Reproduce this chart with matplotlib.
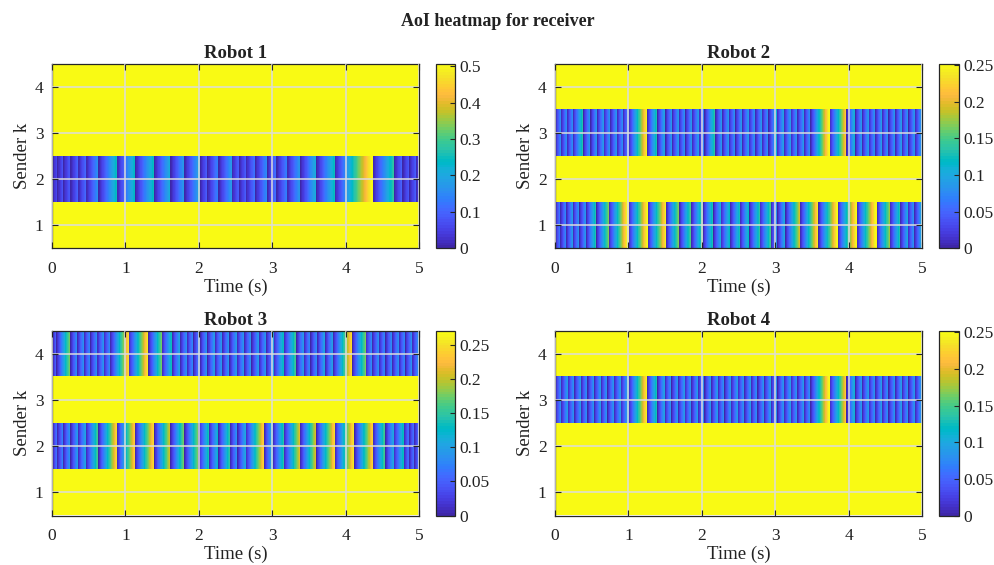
import numpy as np
import matplotlib
matplotlib.use("Agg")
import matplotlib.pyplot as plt
from matplotlib.colors import ListedColormap
from matplotlib.ticker import FuncFormatter

# ---------------- data ----------------
# message reception (AoI reset) times in seconds, per receiver / sender link
r1_from2 = [0.00, 0.07, 0.15, 0.25, 0.35, 0.46, 0.63, 0.88, 1.13, 1.39, 1.61, 1.80,
            2.01, 2.11, 2.26, 2.44, 2.54, 2.63, 2.76, 2.92, 3.05, 3.19, 3.37, 3.59,
            3.84, 4.36, 4.65, 4.76, 4.85, 4.94]
r2_from1 = [0.00, 0.07, 0.15, 0.24, 0.33, 0.42, 0.56, 0.73, 1.00, 1.26, 1.51, 1.69,
            1.85, 2.01, 2.15, 2.25, 2.38, 2.51, 2.64, 2.78, 2.93, 3.02, 3.13, 3.33,
            3.58, 3.84, 4.10, 4.37, 4.55, 4.69, 4.79, 4.88]
r2_from3 = [0.00, 0.08, 0.16, 0.24, 0.385, 0.48, 0.57, 0.66, 0.75, 0.84, 0.92, 1.00,
            1.25, 1.39, 1.50, 1.59, 1.68, 1.77, 1.86, 1.95, 2.03, 2.18, 2.27, 2.36,
            2.45, 2.54, 2.63, 2.72, 2.81, 2.90, 3.01, 3.11, 3.20, 3.29, 3.38, 3.47,
            3.73, 3.96, 4.08, 4.17, 4.26, 4.35, 4.44, 4.53, 4.62, 4.71, 4.80, 4.89, 4.98]
r3_from2 = [0.00, 0.07, 0.15, 0.25, 0.35, 0.46, 0.63, 0.88, 1.13, 1.39, 1.61, 1.80,
            1.99, 2.13, 2.26, 2.42, 2.52, 2.63, 2.88, 3.00, 3.15, 3.37, 3.59, 3.84,
            4.11, 4.36, 4.53, 4.64, 4.78, 4.85, 4.92]
r3_from4 = [0.00, 0.06, 0.25, 0.34, 0.43, 0.52, 0.61, 0.70, 0.79, 1.04, 1.31, 1.49,
            1.63, 1.74, 1.83, 1.92, 2.01, 2.11, 2.21, 2.31, 2.41, 2.51, 2.61, 2.71,
            2.81, 2.91, 3.01, 3.15, 3.32, 3.42, 3.51, 3.60, 3.71, 3.82, 4.08, 4.26,
            4.35, 4.44, 4.53, 4.62, 4.71, 4.80, 4.89]
r4_from3 = [0.00, 0.08, 0.17, 0.26, 0.35, 0.44, 0.53, 0.62, 0.71, 0.80, 0.89, 1.00,
            1.25, 1.39, 1.49, 1.58, 1.67, 1.76, 1.85, 1.94, 2.03, 2.12, 2.21, 2.30,
            2.39, 2.48, 2.57, 2.66, 2.75, 2.84, 2.93, 3.02, 3.11, 3.20, 3.29, 3.38,
            3.47, 3.73, 3.96, 4.08, 4.17, 4.26, 4.35, 4.44, 4.53, 4.62, 4.71, 4.80,
            4.89, 4.98]

robots = ["Robot 1", "Robot 2", "Robot 3", "Robot 4"]
senders = [1, 2, 3, 4]
links = [{2: r1_from2}, {1: r2_from1, 3: r2_from3}, {2: r3_from2, 4: r3_from4}, {3: r4_from3}]
clim_max = [0.507, 0.252, 0.271, 0.252]
cbar_ticks = [[0, 0.1, 0.2, 0.3, 0.4, 0.5],
              [0, 0.05, 0.1, 0.15, 0.2, 0.25],
              [0, 0.05, 0.1, 0.15, 0.2, 0.25],
              [0, 0.05, 0.1, 0.15, 0.2, 0.25]]
t_end = 5.0

# ---------------- parula colormap ----------------
parula_data = [
    [0.2422, 0.1504, 0.6603], [0.2504, 0.1650, 0.7076], [0.2578, 0.1818, 0.7511],
    [0.2647, 0.1978, 0.7952], [0.2706, 0.2147, 0.8364], [0.2751, 0.2342, 0.8710],
    [0.2783, 0.2559, 0.8991], [0.2803, 0.2782, 0.9221], [0.2813, 0.3006, 0.9414],
    [0.2810, 0.3228, 0.9579], [0.2795, 0.3447, 0.9717], [0.2760, 0.3667, 0.9829],
    [0.2699, 0.3892, 0.9906], [0.2602, 0.4123, 0.9952], [0.2440, 0.4358, 0.9988],
    [0.2206, 0.4603, 0.9973], [0.1963, 0.4847, 0.9892], [0.1834, 0.5074, 0.9798],
    [0.1786, 0.5289, 0.9682], [0.1764, 0.5499, 0.9520], [0.1687, 0.5703, 0.9359],
    [0.1540, 0.5902, 0.9218], [0.1460, 0.6091, 0.9079], [0.1380, 0.6276, 0.8973],
    [0.1248, 0.6459, 0.8883], [0.1113, 0.6635, 0.8763], [0.0952, 0.6798, 0.8598],
    [0.0689, 0.6948, 0.8394], [0.0297, 0.7082, 0.8163], [0.0036, 0.7203, 0.7917],
    [0.0067, 0.7312, 0.7660], [0.0433, 0.7411, 0.7394], [0.0964, 0.7500, 0.7120],
    [0.1408, 0.7584, 0.6842], [0.1717, 0.7670, 0.6554], [0.1938, 0.7758, 0.6251],
    [0.2161, 0.7843, 0.5923], [0.2470, 0.7918, 0.5567], [0.2906, 0.7973, 0.5188],
    [0.3406, 0.8008, 0.4789], [0.3909, 0.8029, 0.4354], [0.4456, 0.8024, 0.3909],
    [0.5044, 0.7993, 0.3480], [0.5616, 0.7942, 0.3045], [0.6174, 0.7876, 0.2612],
    [0.6720, 0.7793, 0.2227], [0.7242, 0.7698, 0.1910], [0.7738, 0.7598, 0.1646],
    [0.8203, 0.7498, 0.1535], [0.8634, 0.7406, 0.1596], [0.9035, 0.7330, 0.1774],
    [0.9393, 0.7288, 0.2100], [0.9728, 0.7298, 0.2394], [0.9956, 0.7434, 0.2371],
    [0.9970, 0.7659, 0.2199], [0.9952, 0.7893, 0.2028], [0.9892, 0.8136, 0.1885],
    [0.9786, 0.8386, 0.1766], [0.9676, 0.8639, 0.1643], [0.9610, 0.8890, 0.1537],
    [0.9597, 0.9135, 0.1423], [0.9628, 0.9373, 0.1265], [0.9691, 0.9606, 0.1064],
    [0.9769, 0.9839, 0.0805]]
parula = ListedColormap(parula_data, name="parula")

plt.rcParams["font.family"] = ["Liberation Serif", "DejaVu Serif"]

W, H = 995, 565
fig = plt.figure(figsize=(W / 100, H / 100), dpi=100)

# axes boxes in pixel coords: (left, top, right, bottom)
ax_px = [(52, 63.5, 419.5, 248.3), (555, 63.5, 922.5, 248.3),
         (52, 331, 419.5, 515.5), (555, 331, 922.5, 515.5)]
cb_px = [(436, 455), (939.5, 959.5)]

t = np.arange(0, t_end, 0.002) + 0.001


def aoi_row(resets, ts):
    r = np.asarray(resets)
    idx = np.searchsorted(r, ts, side="right") - 1
    idx = np.clip(idx, 0, len(r) - 1)
    return ts - r[idx]


grid_col = "#dcdcdc"
dark = "#262626"
txt = "#222222"

for i in range(4):
    l, tp, r, b = ax_px[i]
    ax = fig.add_axes([l / W, 1 - b / H, (r - l) / W, (b - tp) / H])
    vmax = clim_max[i]
    # senders without a link are shown saturated (top colour)
    img = np.full((len(senders), len(t)), vmax)
    for k, resets in links[i].items():
        img[senders.index(k)] = aoi_row(resets, t)
    im = ax.imshow(img, cmap=parula, vmin=0, vmax=vmax, aspect="auto",
                   origin="lower", extent=[0, t_end, 0.5, 4.5],
                   interpolation="nearest")
    ax.set_xlim(0, 5)
    ax.set_ylim(0.5, 4.5)
    ax.set_xticks([0, 1, 2, 3, 4, 5])
    ax.set_yticks([1, 2, 3, 4])
    ax.grid(True, color=grid_col, linewidth=1.1)
    ax.set_axisbelow(False)
    ax.tick_params(direction="in", length=4, width=0.8, colors=dark,
                   top=True, right=True, labelsize=12.5)
    ax.tick_params(axis="x", pad=9)
    ax.tick_params(axis="y", pad=6)
    for lab in ax.get_xticklabels() + ax.get_yticklabels():
        lab.set_color(txt)
    for s in ax.spines.values():
        s.set_color(dark)
        s.set_linewidth(0.9)
    ax.set_xlabel("Time (s)", fontsize=13.5, color=txt, labelpad=1)
    ax.set_ylabel("Sender k", fontsize=13.5, color=txt, labelpad=3)
    ax.set_title(robots[i], fontsize=13.5, fontweight="bold", color=txt, pad=4)

    cl, cr = cb_px[i % 2]
    cax = fig.add_axes([cl / W, 1 - b / H, (cr - cl) / W, (b - tp) / H])
    cb = fig.colorbar(im, cax=cax, ticks=cbar_ticks[i],
                      format=FuncFormatter(lambda v, p: f"{v:g}"))
    cb.outline.set_edgecolor(dark)
    cb.outline.set_linewidth(0.9)
    cax.tick_params(direction="in", length=3.5, width=0.8, colors=dark,
                    labelsize=12.5, pad=3)
    for lab in cax.get_yticklabels():
        lab.set_color(txt)

fig.text(0.5, 1 - 22 / H, "AoI heatmap for receiver", ha="center", va="center",
         fontsize=13, fontweight="bold", color=txt)

fig.savefig("out.png", dpi=100)
